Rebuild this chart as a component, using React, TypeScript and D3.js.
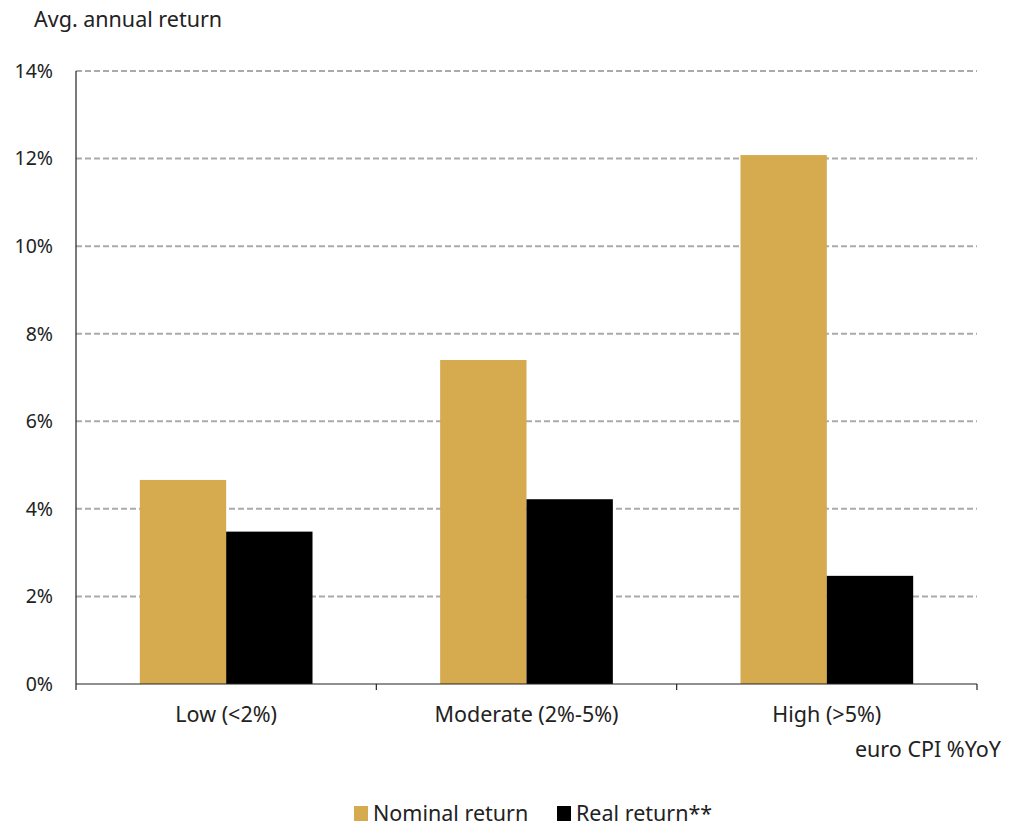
import React from "react";
import * as d3 from "d3";

const categories = ["Low (<2%)", "Moderate (2%-5%)", "High (>5%)"];
const nominalReturn = [4.66, 7.4, 12.08];
const realReturn = [3.48, 4.22, 2.47];
const yTicks = [0, 2, 4, 6, 8, 10, 12, 14];
const seriesNames = ["Nominal return", "Real return**"];
const seriesColors = ["#D6AA4E", "#000000"];

const W = 1012;
const H = 836;
const margin = { left: 76, right: 35, top: 71, bottom: 152 };
const FONT = "'Noto Sans', 'Open Sans', sans-serif";
const LABEL_SIZE = 21.5;
const TICK_SIZE = 19.5;

export default function App() {
  const x0 = d3
    .scaleBand<string>()
    .domain(categories)
    .range([margin.left, W - margin.right])
    .paddingInner(0)
    .paddingOuter(0);
  const y = d3
    .scaleLinear()
    .domain([0, 14])
    .range([H - margin.bottom, margin.top]);
  const groupFrac = 0.575;
  const x1 = d3
    .scaleBand<string>()
    .domain(seriesNames)
    .range([0, x0.bandwidth() * groupFrac]);
  const groupOffset = (x0.bandwidth() * (1 - groupFrac)) / 2;
  const series = [nominalReturn, realReturn];
  const y0 = y(0);
  const right = W - margin.right;

  return (
    <svg width={W} height={H} style={{ display: "block", position: "absolute", left: 0, top: 0 }} fontFamily={FONT}>
      <rect width={W} height={H} fill="#fff" />
      <text x={34} y={27} fontSize={LABEL_SIZE} fill="#222">Avg. annual return</text>
      {yTicks.map((t) => (
        <g key={t}>
          {t > 0 && (
            <line x1={margin.left} x2={right} y1={y(t)} y2={y(t)} stroke="#aaa" strokeWidth={2} strokeDasharray="6,3" />
          )}
          <text x={53} y={y(t)} dy="0.35em" textAnchor="end" fontSize={TICK_SIZE} fill="#222">{`${t}%`}</text>
        </g>
      ))}
      {categories.map((c, i) =>
        series.map((s, j) => (
          <rect
            key={`${c}-${j}`}
            x={(x0(c) ?? 0) + groupOffset + (x1(seriesNames[j]) ?? 0)}
            y={y(s[i])}
            width={x1.bandwidth()}
            height={y0 - y(s[i])}
            fill={seriesColors[j]}
          />
        ))
      )}
      <line x1={margin.left} x2={margin.left} y1={margin.top} y2={y0 + 6} stroke="#222" strokeWidth={1.2} />
      <line x1={margin.left} x2={right} y1={y0} y2={y0} stroke="#222" strokeWidth={1.2} />
      {categories.map((c) => (
        <line key={`t-${c}`} x1={(x0(c) ?? 0) + x0.bandwidth()} x2={(x0(c) ?? 0) + x0.bandwidth()} y1={y0} y2={y0 + 6} stroke="#222" strokeWidth={1.2} />
      ))}
      {categories.map((c) => (
        <text key={`l-${c}`} x={(x0(c) ?? 0) + x0.bandwidth() / 2} y={722} textAnchor="middle" fontSize={LABEL_SIZE} fill="#222">{c}</text>
      ))}
      <text x={1001} y={757} textAnchor="end" fontSize={LABEL_SIZE} fill="#222">euro CPI %YoY</text>
      <g>
        <rect x={354} y={806} width={14} height={15} fill={seriesColors[0]} />
        <text x={373} y={821} fontSize={LABEL_SIZE} fill="#222">{seriesNames[0]}</text>
        <rect x={557} y={806} width={14} height={15} fill={seriesColors[1]} />
        <text x={576} y={821} fontSize={LABEL_SIZE} fill="#222">{seriesNames[1]}</text>
      </g>
    </svg>
  );
}
